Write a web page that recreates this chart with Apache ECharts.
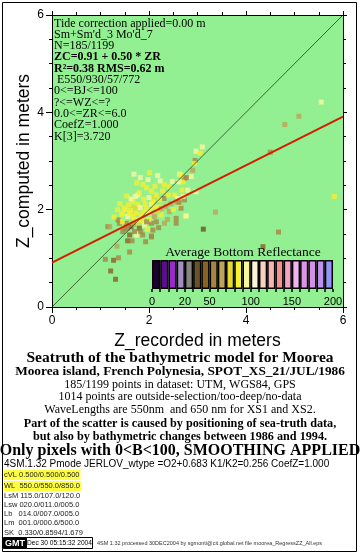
<!DOCTYPE html>
<html><head><meta charset="utf-8">
<script src="https://cdn.jsdelivr.net/npm/echarts@6/dist/echarts.min.js"></script>
<style>html,body{margin:0;padding:0;background:#fff}#c{width:360px;height:555px}</style>
</head><body><div id="c"></div>
<script>
// ---- data ----
const zrRecorded = [5.55,5.09,4.80,4.50,3.10,2.97,3.06,2.95,5.82,3.37,2.75,3.12,4.67,4.35,1.10,1.27,1.37,1.21,1.31,1.60,1.56,1.65,1.93,2.05,1.34,1.15,1.69,1.82,2.01,2.23,1.54,2.42,2.63,2.73,2.87,2.68,2.73,2.53,2.63,2.77,1.72,1.89,2.05,2.10,2.31,2.62,1.77,1.82,1.70,1.94,2.05,1.43,1.56,1.74,1.84,1.98,2.11,2.25,2.42,2.56,2.56,1.53,1.63,1.74,1.80,1.91,2.05,2.08,1.60,1.74,1.87,2.05,2.32,2.35,2.66,1.49,1.36,1.46,1.67,2.32,2.59,2.56,2.94,2.66,2.70,2.77,2.90,2.80,2.70,2.97,2.62,1.39,1.19,1.46,1.67,2.08,1.77,2.20,2.15,1.95,1.86,1.70,2.00,2.18,1.62,1.92,2.45,2.20,1.50,1.40,
  1.58,1.63,1.80,1.88,1.98,2.12,2.18,1.75,1.52,1.60,1.68,1.78,1.88,1.95,2.02,2.12,2.22,2.28,2.40,2.48,1.45,1.55,1.70,1.83,1.97,2.15,2.38,1.28,1.35,2.00,2.25,2.50];
const zcComputed = [4.21,3.92,3.75,3.18,3.29,3.20,3.16,3.01,2.27,1.95,1.87,1.60,1.54,1.24,0.98,0.96,1.01,0.74,0.57,1.13,1.36,1.36,1.34,1.46,1.25,1.65,2.73,2.66,2.76,2.59,2.28,2.47,2.73,2.64,2.68,2.40,2.20,2.30,2.06,1.87,2.27,2.22,2.38,2.23,2.23,2.57,2.11,2.04,2.03,2.03,2.11,1.89,1.86,1.93,1.89,1.93,1.86,1.89,1.96,1.82,1.72,1.72,1.65,1.72,1.62,1.68,1.72,1.58,1.48,1.48,1.48,1.44,1.72,2.06,2.03,2.03,1.79,1.55,2.16,2.51,2.23,2.16,2.95,2.71,2.57,2.66,2.81,2.40,2.27,2.37,2.15,1.72,1.65,1.93,1.86,2.16,2.30,2.05,2.30,2.45,1.78,1.80,1.80,1.96,1.98,2.12,2.12,1.63,1.60,2.12,
  2.10,2.22,2.35,2.52,2.62,2.48,2.70,2.55,2.00,1.92,1.70,1.80,1.95,1.75,1.98,2.05,2.20,2.38,2.30,2.58,1.75,1.62,1.55,1.55,1.60,1.75,1.80,1.85,2.00,2.25,2.02,2.00];
const bReflect = [95,62,66,55,96,94,85,58,82,64,83,38,55,45,55,42,56,42,40,55,45,52,58,55,62,58,96,95,82,96,82,80,95,58,95,80,58,82,80,93,92,80,85,78,58,93,82,96,78,84,92,80,92,83,86,95,60,80,62,58,55,50,45,78,48,93,58,55,45,90,52,58,60,60,56,82,58,52,80,82,92,60,82,82,85,58,60,93,96,93,58,58,60,82,80,82,92,84,83,86,84,88,80,78,82,86,60,57,56,83,
  85,92,82,84,94,80,92,82,80,84,60,82,80,58,86,80,82,84,80,93,82,58,52,58,82,58,60,80,84,93,60,80];
const diagonalLine = [[0,0],[6,6]];
const regressionLine = [[0,0.91],[6,3.91]];
const cbBounds = [0,5,10,15,20,30,40,50,60,70,80,90,100,110,120,130,140,150,160,170,180,190,200];
const cbColors = ['#1e0030','#5c0c8c','#9a2ac8','#a48cc4','#888480','#6a5228','#8a6222','#a88444','#bca458','#e6d82c','#f8f030','#fdf6a0','#fff0d8','#f8d2c0','#f8b4b0','#f49090','#f6a2c6','#f0b2f0','#e092e8','#d68ee8','#c090f0','#9494f8'];
const cbTickIdx = [0,4,7,12,17,22];
const cbTickLabels = ['0','20','50','100','150','200'];
const annotLines = [
  ['Tide correction applied=0.00 m',false],
  ["Sm+Sm'd_3 Mo'd_7",false],
  ['N=185/1199',false],
  ['ZC=0.91 + 0.50 * ZR',true],
  ['R\u00b2=0.38 RMS=0.62 m',true],
  [' E550/930/57/772',false],
  ['0<=BJ<=100',false],
  ['?<=WZ<=?',false],
  ['0.0<=ZR<=6.0',false],
  ['CoefZ=1.000',false],
  ['K[3]=3.720',false]
];
const captionLines = [
  ['Seatruth of the bathymetric model for Moorea',358,15.5,true],
  ['Moorea island, French Polynesia, SPOT_XS_21/JUL/1986',371.5,13.3,true],
  ['185/1199 points in dataset: UTM, WGS84, GPS',384.5,12,false],
  ['1014 points are outside-selection/too-deep/no-data',397,12,false],
  ['WaveLengths are 550nm  and 650 nm for XS1 and XS2.',410,12,false],
  ['Part of the scatter is caused by positioning of sea-truth data,',424,12.2,true],
  ['but also by bathymetric changes between 1986 and 1994.',437,12.2,true],
  ['Only pixels with 0<B<100, SMOOTHING APPLIED',451,16,true]
];
const paramLine = '4SM.1.32 Pmode JERLOV_wtype =O2+0.683 K1/K2=0.256 CoefZ=1.000';
const smallLines = [
  ['cVL 0.500/0.500/0.500',true],
  ['WL  550.0/550.0/850.0',true],
  ['LsM 115.0/107.0/120.0',false],
  ['Lsw 020.0/011.0/005.0',false],
  ['Lb   014.0/007.0/005.0',false],
  ['Lm  001.0/000.6/500.0',false],
  ['SK  0.330/0.8594/1.679',false]
];
const smallY = [475,486,496,504.5,513.5,523,532.5];
const stampDate = 'Dec 30 05:15:32 2004';
const stampNote = '4SM 1.32 processed 30DEC2004 by sgmonti@cit.global.net file moorea_RegressZZ_All.eps';

// ---- chart ----
const chart = echarts.init(document.getElementById('c'), null, {renderer:'canvas'});
const serif = 'Liberation Serif';
const sans = 'Liberation Sans';
const frameAxis = (pos, showLabel) => ({
  gridIndex:0, type:'value', min:0, max:6, interval:2, position:pos,
  axisLine:{show:true, onZero:false, lineStyle:{color:'#000', width:1}},
  axisTick:{show:true, inside:false, length: showLabel?6:4, lineStyle:{color:'#000', width:1}},
  minorTick:{show:true, splitNumber:4, length:3, lineStyle:{color:'#000', width:1}},
  splitLine:{show:false}, minorSplitLine:{show:false},
  axisLabel:{show:showLabel, color:'#000', fontSize:12, fontFamily:sans, margin:8}
});
const xMain = Object.assign(frameAxis('bottom', true), {
  name:'Z_recorded in meters', nameLocation:'middle', nameGap:22,
  nameTextStyle:{fontSize:17.5, fontFamily:sans, color:'#000'}
});
const yMain = Object.assign(frameAxis('left', true), {
  name:'Z_computed in meters', nameLocation:'middle', nameGap:19, nameRotate:90, nameMoveOverlap:false,
  nameTextStyle:{fontSize:17.5, fontFamily:sans, color:'#000'}
});

const graphic = [];
graphic.push({type:'rect', silent:true, shape:{x:2.5,y:2.5,width:354,height:549}, style:{fill:null, stroke:'#000', lineWidth:1}});
annotLines.forEach((l,i)=>{
  graphic.push({type:'text', silent:true, z:100, x:54, y:23.5+i*11.3,
    style:{text:l[0], fill:'#000', font:(l[1]?'bold ':'')+'12px "'+serif+'"', textAlign:'left', textVerticalAlign:'middle'}});
});
graphic.push({type:'text', silent:true, z:100, x:243, y:252,
  style:{text:'Average Bottom Reflectance', fill:'#000', font:'13.5px "'+serif+'"', textAlign:'center', textVerticalAlign:'middle'}});
captionLines.forEach(l=>{
  graphic.push({type:'text', silent:true, x:180, y:l[1],
    style:{text:l[0], fill:'#000', font:(l[3]?'bold ':'')+l[2]+'px "'+serif+'"', textAlign:'center', textVerticalAlign:'middle'}});
});
graphic.push({type:'text', silent:true, x:4, y:464,
  style:{text:paramLine, fill:'#000', font:'10px "'+sans+'"', textAlign:'left', textVerticalAlign:'middle'}});
smallLines.forEach((l,i)=>{
  graphic.push({type:'text', silent:true, x:4, y:smallY[i],
    style:{text:l[0], fill:'#222', font:'7.5px "'+sans+'"', textAlign:'left', textVerticalAlign:'middle',
      backgroundColor: l[1] ? '#ffff40' : null, padding: l[1] ? [1,1,1,0] : 0}});
});
graphic.push({type:'rect', silent:true, shape:{x:3.5,y:537.5,width:23,height:11}, style:{fill:'#000', stroke:'#000'}});
graphic.push({type:'text', silent:true, x:15, y:543.5, style:{text:'GMT', fill:'#fff', font:'bold 9px "'+sans+'"', textAlign:'center', textVerticalAlign:'middle'}});
graphic.push({type:'rect', silent:true, shape:{x:26.5,y:537.5,width:66,height:11}, style:{fill:'#fff', stroke:'#000', lineWidth:1}});
graphic.push({type:'text', silent:true, x:59.5, y:543.5, style:{text:stampDate, fill:'#000', font:'6.6px "'+sans+'"', textAlign:'center', textVerticalAlign:'middle'}});
graphic.push({type:'text', silent:true, x:97, y:543.5, style:{text:stampNote, fill:'#333', font:'5.5px "'+sans+'"', textAlign:'left', textVerticalAlign:'middle'}});

const option = {
  animation:false,
  backgroundColor:'#fff',
  grid:[
    {left:52, top:15, width:291, height:292, show:true, backgroundColor:'#92f092', borderWidth:0, containLabel:false},
    {left:152, top:260, width:181, height:29, containLabel:false}
  ],
  xAxis:[
    xMain,
    frameAxis('top', false),
    {gridIndex:1, type:'category', data:cbColors.map((c,i)=>String(i)), show:false, boundaryGap:true},
    {gridIndex:1, type:'value', min:0, max:cbColors.length, interval:1, position:'bottom',
      axisLine:{show:false}, splitLine:{show:false},
      axisTick:{show:true, length:3, lineStyle:{color:'#000', width:1.5}},
      axisLabel:{show:true, customValues:cbTickIdx, formatter:(v)=>cbTickLabels[cbTickIdx.indexOf(v)] || '',
        color:'#000', fontSize:11, fontFamily:sans, margin:7}}
  ],
  yAxis:[
    yMain,
    frameAxis('right', false),
    {gridIndex:1, type:'value', min:0, max:1, show:false}
  ],
  visualMap:{type:'piecewise', show:false, dimension:2, seriesIndex:0,
    pieces:cbColors.map((c,i)=>({gte:cbBounds[i], lt:cbBounds[i+1], color:c}))},
  series:[
    {type:'scatter', xAxisIndex:0, yAxisIndex:0, symbol:'rect', symbolSize:5, z:2, silent:true,
      data:zrRecorded.map((x,i)=>[x, zcComputed[i], bReflect[i]])},
    {type:'line', xAxisIndex:0, yAxisIndex:0, data:diagonalLine, symbol:'none', z:3, silent:true,
      lineStyle:{color:'#000', width:0.6}},
    {type:'line', xAxisIndex:0, yAxisIndex:0, data:regressionLine, symbol:'none', z:4, silent:true,
      lineStyle:{color:'#d41e00', width:2}},
    {type:'bar', xAxisIndex:2, yAxisIndex:2, barCategoryGap:'0%', silent:true, z:5,
      itemStyle:{borderColor:'#000', borderWidth:1.5},
      data:cbColors.map(c=>({value:1, itemStyle:{color:c}}))}
  ],
  graphic:graphic
};
chart.setOption(option);
</script>
</body></html>
